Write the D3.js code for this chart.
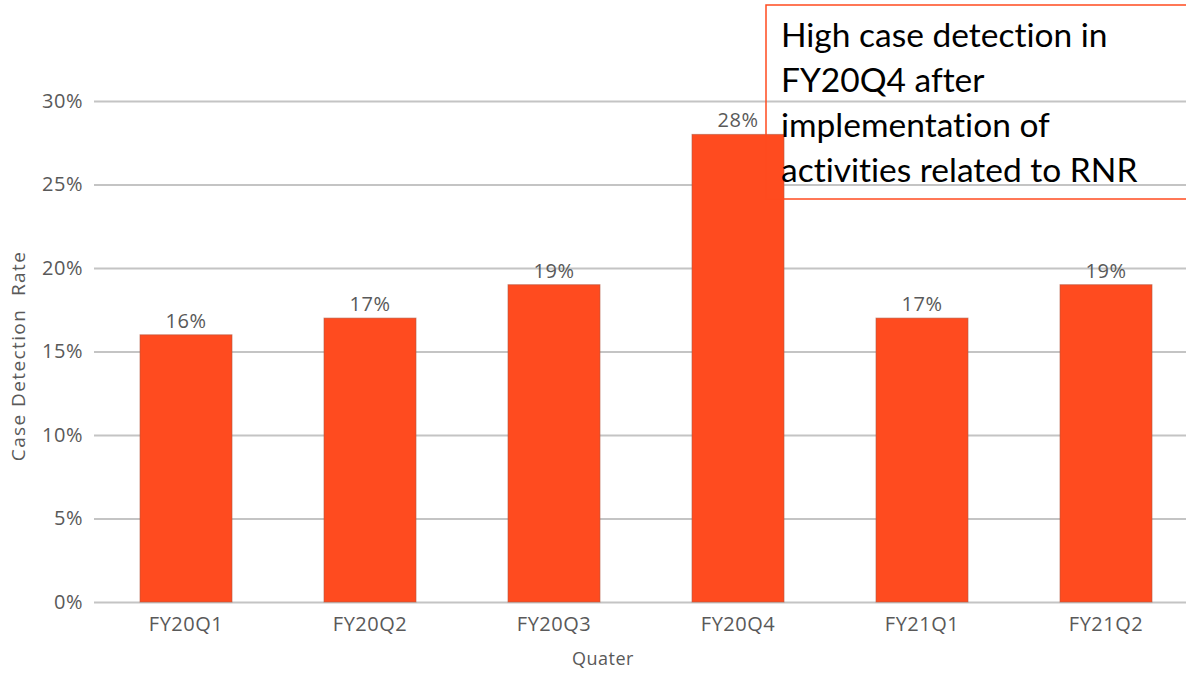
<!DOCTYPE html>
<html>
<head>
<meta charset="utf-8">
<script src="https://cdn.jsdelivr.net/npm/d3@7"></script>
<style>
  html, body { margin: 0; padding: 0; background: #fff; }
  svg { display: block; }
</style>
</head>
<body>
<svg id="chart" width="1186" height="676"></svg>
<script>
// Case detection rate per quarter
const quarters = ["FY20Q1", "FY20Q2", "FY20Q3", "FY20Q4", "FY21Q1", "FY21Q2"];
const detectionRate = [0.16, 0.17, 0.19, 0.28, 0.17, 0.19];
const yTicks = [0, 0.05, 0.10, 0.15, 0.20, 0.25, 0.30];
const noteLines = [
  "High case detection in",
  "FY20Q4 after",
  "implementation of",
  "activities related to RNR"
];

const W = 1186, H = 676;
const plot = { left: 94, right: 1198, top: 101, bottom: 602 };
const labelFont = "'Open Sans', 'Noto Sans', sans-serif";
const grey = "#595959";
const barColor = "#FF4B1F";

const svg = d3.select("#chart");

const x = d3.scaleBand()
  .domain(quarters)
  .range([plot.left, plot.right])
  .paddingInner(0.5)
  .paddingOuter(0.25);

const y = d3.scaleLinear()
  .domain([0, 0.30])
  .range([plot.bottom, plot.top]);

// Horizontal gridlines with percentage labels
const yAxis = svg.append("g")
  .attr("transform", `translate(${plot.left},0)`)
  .call(d3.axisLeft(y)
    .tickValues(yTicks)
    .tickFormat(d3.format(".0%"))
    .tickSize(-(W - plot.left))
    .tickPadding(11));
yAxis.select(".domain").remove();
yAxis.selectAll(".tick line")
  .attr("stroke", "#c4c4c4")
  .attr("stroke-width", 2);
yAxis.selectAll(".tick text")
  .attr("fill", grey)
  .style("font-family", labelFont)
  .style("font-size", "20px")
  .style("letter-spacing", "0.5px");

// Bars
svg.append("g")
  .selectAll("rect")
  .data(quarters)
  .join("rect")
  .attr("x", d => x(d))
  .attr("y", (d, i) => y(detectionRate[i]))
  .attr("width", x.bandwidth())
  .attr("height", (d, i) => y(0) - y(detectionRate[i]))
  .attr("fill", barColor)
  .attr("stroke", "#b5593f")
  .attr("stroke-opacity", 0.6)
  .attr("stroke-width", 1);

// Value labels above bars
svg.append("g")
  .selectAll("text")
  .data(quarters)
  .join("text")
  .attr("x", d => x(d) + x.bandwidth() / 2)
  .attr("y", (d, i) => y(detectionRate[i]) - 7)
  .attr("text-anchor", "middle")
  .attr("fill", grey)
  .style("font-family", labelFont)
  .style("font-size", "20px")
  .style("letter-spacing", "0.5px")
  .text((d, i) => d3.format(".0%")(detectionRate[i]));

// Category axis
const xAxis = svg.append("g")
  .attr("transform", `translate(0,${plot.bottom})`)
  .call(d3.axisBottom(x).tickSize(0).tickPadding(15));
xAxis.select(".domain").remove();
xAxis.selectAll(".tick text")
  .attr("fill", grey)
  .style("font-family", labelFont)
  .style("font-size", "20px")
  .style("letter-spacing", "0.5px");

// Axis titles
svg.append("text")
  .attr("transform", `translate(25,356) rotate(-90)`)
  .attr("text-anchor", "middle")
  .attr("fill", grey)
  .attr("xml:space", "preserve")
  .style("white-space", "pre")
  .style("font-family", labelFont)
  .style("font-size", "19px")
  .style("letter-spacing", "1.4px")
  .text("Case Detection  Rate");

svg.append("text")
  .attr("x", 603)
  .attr("y", 665)
  .attr("text-anchor", "middle")
  .attr("fill", grey)
  .style("font-family", labelFont)
  .style("font-size", "18px")
  .style("letter-spacing", "0.5px")
  .text("Quater");

// Annotation callout
const note = svg.append("g");
note.append("rect")
  .attr("x", 766)
  .attr("y", 5)
  .attr("width", 440)
  .attr("height", 194)
  .attr("fill", "none")
  .attr("stroke", barColor)
  .attr("stroke-width", 1.5);
note.selectAll("text")
  .data(noteLines)
  .join("text")
  .attr("x", 781)
  .attr("y", (d, i) => 47 + i * 45)
  .attr("fill", "#000")
  .style("font-family", "Lato, 'Noto Sans', sans-serif")
  .style("font-size", "33.5px")
  .style("font-variant-ligatures", "none")
  .text(d => d);
</script>
</body>
</html>
